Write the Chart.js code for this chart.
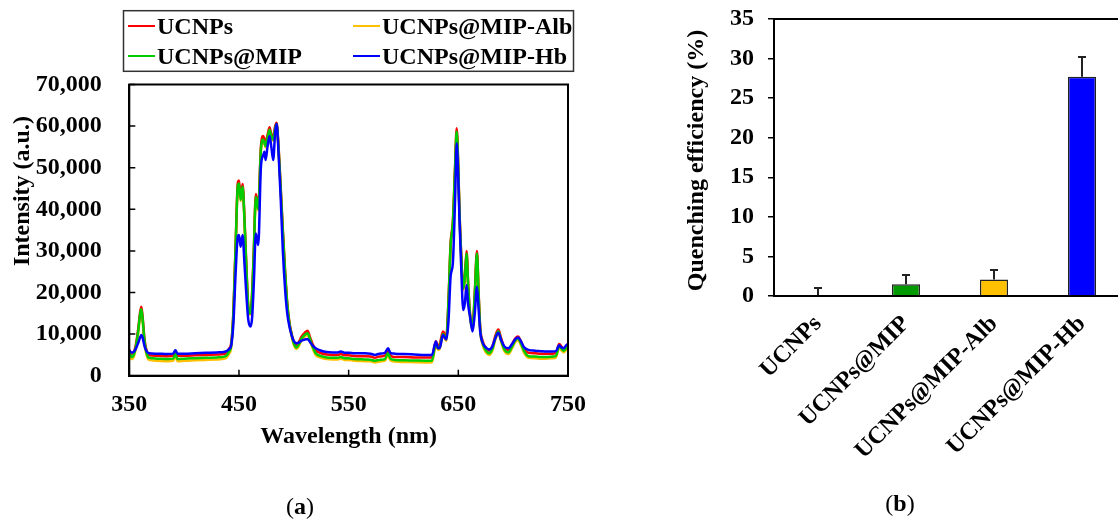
<!DOCTYPE html>
<html>
<head>
<meta charset="utf-8">
<script src="https://cdn.jsdelivr.net/npm/chart.js@4.4.1/dist/chart.umd.min.js"></script>
<style>
html,body{margin:0;padding:0;background:#fff;overflow:hidden;width:1118px;height:523px;}
#specCanvas{position:absolute;left:0;top:0;}
#barCanvas{position:absolute;left:600px;top:0;}
</style>
</head>
<body>
<canvas id="specCanvas" width="600" height="523"></canvas>
<canvas id="barCanvas" width="560" height="523"></canvas>
<script>
// ---------------- DATA ----------------
const seriesNames = ['UCNPs', 'UCNPs@MIP', 'UCNPs@MIP-Alb', 'UCNPs@MIP-Hb'];

const wavelength = [350,352,354,356,358,360,361,362,364,366,368,375,385,390,392,394,400,410,420,430,437,441,443,445,447,449,450,451.5,453.3,455,456.5,458.5,460.5,462,463.5,465.4,467.6,470,472.1,473.2,474.3,476,477.9,479.5,481.2,483,484.3,486,488,490,492,494,496,498,500,502.5,505,507,510,512.5,515,517,520,525,530,535,540,543,546,550,555,560,565,570,574,578,583,586,588,592,600,610,620,626,629.5,631.5,633,636,639,641,643,645,647,648.5,650,651,652.5,654.5,656,657.5,659,660.5,663,665,667,668.5,670,672,675,678,681,684,686.5,689,692,695.5,699,702,704.5,707,710,714,720,725,730,736,739,742,744,746,748,750];

const ucnps = [6200,5300,5600,7500,11000,15500,16600,14500,8500,5800,4900,4800,4700,4800,5800,4800,4800,4900,5000,5100,5200,6500,8000,16000,32000,46500,46900,43000,46100,38000,28000,16600,15000,20000,30000,43700,40600,55000,57600,56800,55900,57800,59700,58000,57450,60000,60800,55500,45500,35000,25500,17500,12800,10100,8200,7400,8300,9400,10300,10800,9100,7700,6100,5400,5100,5000,5000,5200,4900,4900,4750,4700,4700,4600,4300,4600,4800,6200,4900,4500,4500,4400,4350,4400,8300,7200,7500,10600,9300,18000,32000,37000,50000,59500,50000,40000,30000,21000,24000,30000,22000,15500,11800,20000,30000,20000,11500,8500,6700,6000,7000,9800,11100,9000,6800,6200,7600,9000,9400,8300,6500,5500,5400,5300,5300,5300,5500,7600,7000,6500,7000,7500];

const ucnpsMip = [5600,4500,5000,7000,10500,15000,16000,14000,8000,5200,4300,4100,4000,4100,5200,4000,4100,4200,4300,4400,4580,5800,7500,15500,31500,45800,46200,42300,45400,37500,27500,16600,15000,19500,29500,43000,40000,54300,56800,56000,55200,57200,59100,57500,56800,59500,60500,55000,45000,34500,25000,17200,12500,9900,7800,6800,7700,8900,9800,10200,8600,7100,5400,4700,4400,4300,4300,4500,4200,4200,4000,3950,3900,3850,3600,3800,4000,5400,4100,3800,3700,3650,3600,3650,7700,6600,6900,10000,8800,17500,31500,36500,49500,58700,49500,39500,29500,21000,23500,29400,21500,15000,11500,19500,29400,19500,11000,8000,6100,5400,6400,9300,10700,8500,6300,5600,7000,8500,8900,7800,5900,4700,4600,4500,4500,4600,4800,7100,6500,6000,6500,7000];

const ucnpsMipAlb = [5100,4000,4500,6500,10000,14600,15600,13600,7500,4700,3800,3600,3500,3600,4700,3500,3600,3700,3800,3900,4100,5300,7000,15000,31000,45500,45900,42000,45100,37200,27200,16300,14700,19200,29200,42700,39700,54000,56500,55700,54900,56900,58800,57200,56500,59200,60200,54700,44700,34200,24700,16900,12200,9500,7400,6400,7300,8500,9400,9800,8200,6700,5000,4300,4000,3900,3900,4100,3800,3800,3600,3550,3500,3450,3200,3400,3600,5000,3700,3400,3300,3250,3200,3250,7300,6200,6500,9600,8400,17100,31100,36100,49100,58300,49100,39100,29100,20600,23100,29000,21100,14600,11100,19100,29000,19100,10600,7600,5700,5000,6000,8900,10300,8100,5900,5200,6600,8100,8500,7400,5500,4300,4200,4100,4100,4200,4400,6700,6100,5600,6100,6600];

const ucnpsMipHb = [6000,5600,5700,6500,7800,9300,9800,9300,7000,5800,5400,5300,5200,5300,6100,5300,5300,5400,5500,5600,5760,6400,7400,13000,25000,33600,33800,31000,33800,27000,20500,13400,11800,14000,22000,34200,31400,50200,53000,53850,51850,55000,57600,55000,51850,58500,60500,54000,43000,30000,21000,15000,11800,9700,8300,7800,8000,8400,8700,8800,8000,7300,6600,6000,5700,5600,5600,5800,5500,5500,5400,5400,5400,5300,5000,5300,5500,6600,5500,5300,5200,5100,5000,5000,8200,6600,6600,9800,8700,13000,24000,27000,42000,55850,47000,38000,27000,15800,17500,21800,17000,14500,10600,15000,21400,16000,10500,8000,6800,6300,7000,9200,10300,8600,7000,6600,7600,8800,9200,8300,6800,6200,6000,5900,5800,5800,5900,7300,6800,6600,7200,7700];

const seriesValues = [ucnps, ucnpsMip, ucnpsMipAlb, ucnpsMipHb];
const seriesColors = ['#ff0000', '#00cc00', '#ffc000', '#0000ff'];

const barCategories = ['UCNPs', 'UCNPs@MIP', 'UCNPs@MIP-Alb', 'UCNPs@MIP-Hb'];
const quenching = [0, 1.5, 2.1, 27.7];
const quenchingErr = [1.0, 1.15, 1.2, 2.5];
const barColors = ['#ffffff', '#009900', '#ffc000', '#0000ff'];

// ---------------- STYLE ----------------
const FONT = "'Liberation Serif', 'Times New Roman', serif";
Chart.defaults.font.family = FONT;
Chart.defaults.color = '#000';

const framePlugin = {
  id: 'frame',
  afterDraw(chart) {
    const {ctx, chartArea: a} = chart;
    ctx.save();
    ctx.strokeStyle = '#000';
    ctx.lineWidth = 2;
    ctx.strokeRect(a.left, a.top, a.right - a.left, a.bottom - a.top);
    ctx.restore();
  }
};

// inward tick marks on the bottom and left axes, placed by the library's scales
const inwardTicks = {
  id: 'inwardTicks',
  afterDraw(chart) {
    const {ctx, chartArea: a, scales} = chart;
    ctx.save();
    ctx.strokeStyle = '#000';
    ctx.lineWidth = 1.5;
    ctx.beginPath();
    scales.x.ticks.forEach(t => {
      const px = scales.x.getPixelForValue(t.value);
      ctx.moveTo(px, a.bottom);
      ctx.lineTo(px, a.bottom - 6);
    });
    scales.y.ticks.forEach(t => {
      const py = scales.y.getPixelForValue(t.value);
      ctx.moveTo(a.left, py);
      ctx.lineTo(a.left + 6, py);
    });
    ctx.stroke();
    ctx.restore();
  }
};

function panelLabel(letter, cx, cy) {
  return {
    id: 'panelLabel',
    afterDraw(chart) {
      const ctx = chart.ctx;
      ctx.save();
      ctx.fillStyle = '#000';
      ctx.textBaseline = 'middle';
      ctx.textAlign = 'left';
      const normal = "24px " + FONT, bold = "bold 24px " + FONT;
      ctx.font = normal; const wp = ctx.measureText('(').width;
      ctx.font = bold; const wl = ctx.measureText(letter).width;
      const total = wp * 2 + wl;
      let x = cx - total / 2;
      ctx.font = normal; ctx.fillText('(', x, cy); x += wp;
      ctx.font = bold; ctx.fillText(letter, x, cy); x += wl;
      ctx.font = normal; ctx.fillText(')', x, cy);
      ctx.restore();
    }
  };
}

const boxLegend = {
  id: 'boxLegend',
  afterDraw(chart) {
    const ctx = chart.ctx;
    ctx.save();
    ctx.strokeStyle = '#333';
    ctx.lineWidth = 1.5;
    ctx.strokeRect(123.5, 10.7, 450, 60.6);
    ctx.font = "bold 24px " + FONT;
    ctx.textAlign = 'left';
    ctx.textBaseline = 'alphabetic';
    const cols = [128, 353];
    const rows = [26, 56];
    chart.data.datasets.forEach((ds, i) => {
      const c = Math.floor(i / 2), r = i % 2;
      const x = cols[c], y = rows[r];
      ctx.strokeStyle = ds.borderColor;
      ctx.lineWidth = 2;
      ctx.beginPath(); ctx.moveTo(x, y); ctx.lineTo(x + 27, y); ctx.stroke();
      ctx.fillStyle = '#000';
      ctx.fillText(ds.label, x + 29, y + 7.5);
    });
    ctx.restore();
  }
};

const errorBars = {
  id: 'errorBars',
  afterDatasetsDraw(chart) {
    const meta = chart.getDatasetMeta(0);
    const ys = chart.scales.y;
    const ctx = chart.ctx;
    ctx.save();
    ctx.strokeStyle = '#222';
    ctx.lineWidth = 2;
    meta.data.forEach((bar, i) => {
      const yTop = ys.getPixelForValue(quenching[i] + quenchingErr[i]);
      ctx.beginPath();
      ctx.moveTo(bar.x, bar.y);
      ctx.lineTo(bar.x, yTop);
      ctx.moveTo(bar.x - 4, yTop);
      ctx.lineTo(bar.x + 4, yTop);
      ctx.stroke();
    });
    ctx.restore();
  }
};

const tickFont = {size: 24, weight: 'bold', family: FONT};
const drawOrder = [2, 1, 3, 0];

function fixX(h) { return s => { s.height = h; s.paddingLeft = 0; s.paddingRight = 0; }; }
function fixY(w) { return s => { s.width = w; s.paddingTop = 0; s.paddingBottom = 0; }; }

// ---------------- CHART A: spectra ----------------
new Chart(document.getElementById('specCanvas'), {
  type: 'line',
  data: {
    datasets: seriesNames.map((name, s) => ({
      label: name,
      data: wavelength.map((w, i) => ({x: w, y: seriesValues[s][i]})),
      borderColor: seriesColors[s],
      backgroundColor: seriesColors[s],
      borderWidth: 2.5,
      pointRadius: 0,
      cubicInterpolationMode: 'monotone',
      fill: false,
      order: drawOrder[s]
    }))
  },
  options: {
    responsive: false,
    animation: false,
    devicePixelRatio: 1,
    events: [],
    layout: {padding: {top: 84.5, right: 32, left: 0, bottom: 0}},
    plugins: {legend: {display: false}, tooltip: {enabled: false}},
    scales: {
      x: {
        type: 'linear', min: 350, max: 750,
        ticks: {stepSize: 100, font: tickFont, padding: 15, color: '#000', callback: v => String(v)},
        grid: {display: false, drawTicks: false},
        border: {color: '#000', width: 2},
        title: {display: true, text: 'Wavelength (nm)', font: tickFont, color: '#000', padding: {top: 0, bottom: 71.6}},
        afterFit: fixX(147.3)
      },
      y: {
        min: 0, max: 70000,
        ticks: {stepSize: 10000, font: tickFont, padding: 27.6, color: '#000', callback: v => v.toLocaleString('en-US')},
        grid: {display: false, drawTicks: false},
        border: {color: '#000', width: 2},
        title: {display: true, text: ' '.repeat(13) + 'Intensity (a.u.)', font: tickFont, color: '#000', padding: {top: 8.6, bottom: 0}},
        afterFit: fixY(129.3)
      }
    }
  },
  plugins: [framePlugin, inwardTicks, boxLegend, panelLabel('a', 300, 508)]
});

// ---------------- CHART B: quenching bars ----------------
new Chart(document.getElementById('barCanvas'), {
  type: 'bar',
  data: {
    labels: barCategories,
    datasets: [{
      label: 'Quenching efficiency',
      data: quenching,
      backgroundColor: barColors,
      borderColor: '#222',
      borderWidth: 1.5,
      barPercentage: 0.32,
      categoryPercentage: 1.0
    }]
  },
  options: {
    responsive: false,
    animation: false,
    devicePixelRatio: 1,
    events: [],
    layout: {padding: {top: 19, right: 34, left: 0, bottom: 0}},
    plugins: {legend: {display: false}, tooltip: {enabled: false}},
    scales: {
      x: {
        ticks: {font: tickFont, color: '#000', minRotation: 45, maxRotation: 45, autoSkip: false, padding: 14},
        grid: {display: false, drawTicks: false},
        border: {color: '#000', width: 2},
        afterFit: fixX(227)
      },
      y: {
        min: 0, max: 35,
        ticks: {stepSize: 5, font: tickFont, color: '#000', padding: 14},
        grid: {drawOnChartArea: false, drawTicks: true, tickLength: 6, color: '#000', lineWidth: 1.5},
        border: {color: '#000', width: 2},
        title: {display: true, text: 'Quenching efficiency (%) ', font: tickFont, color: '#000', padding: {top: 82.6, bottom: 0}},
        afterFit: fixY(174)
      }
    }
  },
  plugins: [framePlugin, errorBars, panelLabel('b', 300, 505)]
});
</script>
</body>
</html>
